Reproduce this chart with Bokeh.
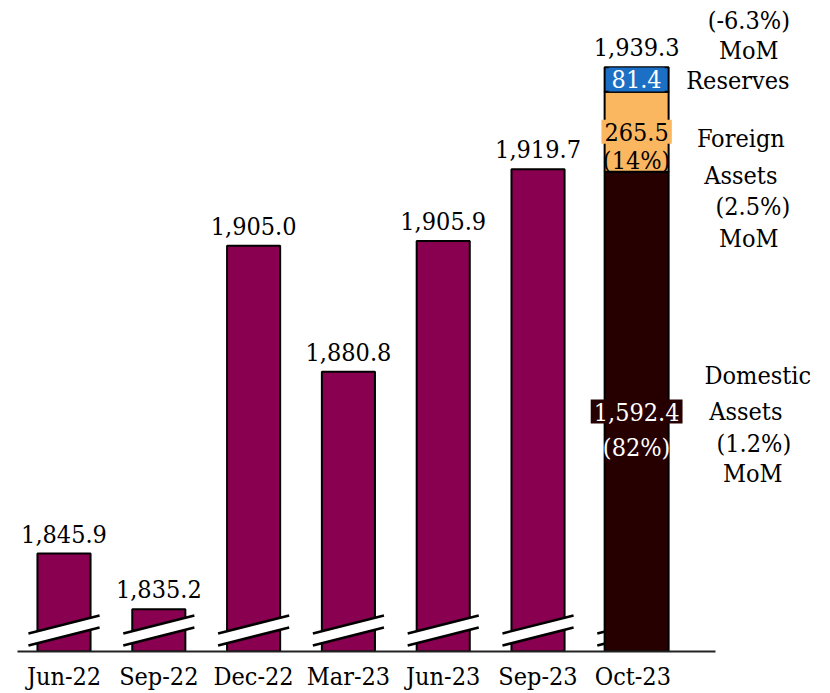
from bokeh.plotting import figure
from bokeh.models import Range1d, FixedTicker
from bokeh.embed import file_html
from bokeh.resources import INLINE
from bokeh.core.properties import value

# ---------------- data ----------------
periods = ["Jun-22", "Sep-22", "Dec-22", "Mar-23", "Jun-23", "Sep-23", "Oct-23"]
totals = [1845.9, 1835.2, 1905.0, 1880.8, 1905.9, 1919.7, 1939.3]

oct_components = ["Domestic Assets", "Foreign Assets", "Reserves"]
oct_values = [1592.4, 265.5, 81.4]
oct_shares = ["(82%)", "(14%)", ""]
oct_mom = ["(1.2%)", "(2.5%)", "(-6.3%)"]

# ---------------- style ----------------
FONT = "'DejaVu Serif Condensed', 'DejaVu Serif', serif"
FS = "25px"
MAROON = "#88004F"
COLORS = ["#260000", "#FBB660", "#1B6FC4"]
TEXT_COLORS = ["white", "black", "white"]

Y0, Y1 = 1827.1, 1952.1
oct_total = sum(oct_values)
S1 = oct_total * (Y1 - Y0) / (oct_total - Y0)

p = figure(width=830, height=693, output_backend="svg", toolbar_location=None,
           x_range=Range1d(-0.4905, 8.085), y_range=Range1d(Y0, Y1),
           min_border_left=17, min_border_right=0, min_border_top=0,
           min_border_bottom=30)
p.extra_y_ranges = {"oct": Range1d(0, S1)}
p.grid.visible = False
p.outline_line_color = None
p.yaxis.visible = False
p.background_fill_color = "white"

ax = p.xaxis[0]
ax.ticker = FixedTicker(ticks=list(range(len(periods))))
ax.major_label_overrides = {i: lab for i, lab in enumerate(periods)}
ax.major_tick_line_color = None
ax.minor_tick_line_color = None
ax.major_tick_out = 0
ax.major_tick_in = 0
ax.major_label_standoff = 10
ax.major_label_text_font = FONT
ax.major_label_text_font_size = FS
ax.major_label_text_color = "black"
ax.axis_line_color = "#222222"
ax.axis_line_width = 2
ax.bounds = (-0.4905, 6.872)

n = len(periods)
idx = list(range(n))

# regular bars
p.vbar(x=idx[:-1], top=totals[:-1], bottom=Y0, width=0.56,
       fill_color=MAROON, line_color="black", line_width=2)

# axis-break marks
BW = 0.375
DY = [1.15, 4.61, 6.91, 3.46]
xs = [[i - BW, i + BW, i + BW, i - BW] for i in idx]
ys = [[Y0 + d for d in DY] for _ in idx]
p.patches(xs, ys, fill_color="white", line_color=None)
p.segment(x0=[i - BW for i in idx], y0=[Y0 + DY[0]] * n,
          x1=[i + BW for i in idx], y1=[Y0 + DY[1]] * n,
          line_color="black", line_width=2.5)
p.segment(x0=[i - BW for i in idx], y0=[Y0 + DY[3]] * n,
          x1=[i + BW for i in idx], y1=[Y0 + DY[2]] * n,
          line_color="black", line_width=2.5)

# stacked Oct-23 bar
ox = idx[-1] + 0.04
bottoms, tops = [], []
acc = 0.0
for v in oct_values:
    bottoms.append(acc)
    acc += v
    tops.append(acc)
p.vbar(x=[ox] * 3, bottom=bottoms, top=tops, width=0.675,
       fill_color=COLORS, line_color="black", line_width=2, y_range_name="oct")

# total labels
xl = idx[:-1] + [ox]
p.text(x=xl, y=totals, text=[f"{v:,.1f}" for v in totals],
       text_align="center", text_baseline="middle", y_offset=-20,
       text_font=value(FONT), text_font_size=FS, text_color="black")

# segment labels inside stack
mids = [(b + t) / 2 for b, t in zip(bottoms, tops)]
for k in range(3):
    p.text(x=[ox], y=[mids[k]], text=[f"{oct_values[k]:,.1f}"],
           text_align="center", text_baseline="middle",
           text_font=value(FONT), text_font_size=FS, text_color=TEXT_COLORS[k],
           background_fill_color=COLORS[k], padding=3, y_range_name="oct")
    if oct_shares[k]:
        p.text(x=[ox], y=[mids[k]], text=[oct_shares[k]],
               text_align="center", text_baseline="middle", y_offset=29 if k == 1 else 36,
               text_font=value(FONT), text_font_size=FS, text_color=TEXT_COLORS[k],
               y_range_name="oct")

# side annotations
dom_name = oct_components[0].split()
for_name = oct_components[1].split()
side = [
    # (component index, lines, x offsets, y offsets)
    (0, dom_name + [oct_mom[0], "MoM"], [125, 113, 121, 120], [-36, 0, 32, 62]),
    (1, for_name + [oct_mom[1], "MoM"], [108, 108, 120, 116], [7, 44, 75, 107]),
    (2, [oct_mom[2], "MoM", oct_components[2]], [116, 116, 105], [-59, -29, 1]),
]
for k, lines, xo, yo in side:
    for line, dx, dy in zip(lines, xo, yo):
        p.text(x=[idx[-1]], y=[mids[k]], text=[line], x_offset=dx, y_offset=dy,
               text_align="center", text_baseline="middle",
               text_font=value(FONT), text_font_size=FS, text_color="black",
               y_range_name="oct")

open("out.html", "w").write(file_html(p, INLINE))
